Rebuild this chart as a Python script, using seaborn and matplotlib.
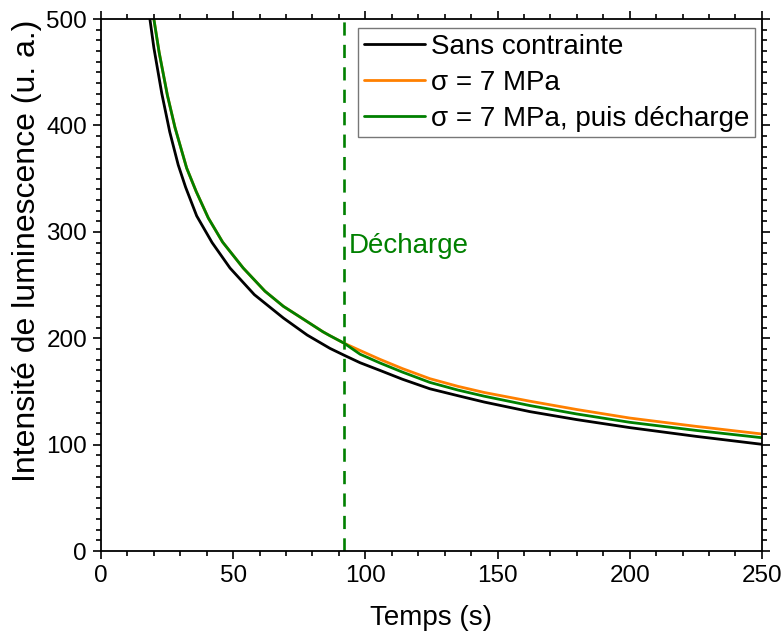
import matplotlib
matplotlib.use("Agg")
import matplotlib.pyplot as plt
import seaborn as sns
import pandas as pd
from matplotlib.ticker import MultipleLocator

# ---- data ----
t_black = [18.5, 20, 23, 26, 29.2, 32, 36.2, 42, 48.8, 58, 69, 78, 86.6, 92,
           98, 105.5, 114, 124.4, 135, 145, 162.3, 180, 200, 225, 250]
y_black = [500, 473, 430, 394, 363, 342, 315, 290, 266, 241, 219, 203, 190.5, 184,
           177, 169.8, 161.5, 152.5, 146, 140, 131, 123.5, 116, 107.8, 100.3]

t_orange = [20, 22, 25.1, 28, 32.4, 36, 40.6, 46, 53.8, 62, 69, 75.9, 84, 86.6, 92,
            98, 105.5, 114, 124.4, 135, 145, 162.3, 180, 200, 225, 250]
y_orange = [500, 468.6, 428.6, 398, 360, 338, 313, 290.4, 266, 244.3, 230, 219, 206,
            202.4, 195.3,
            188.5, 180.2, 171.5, 162, 154.8, 149, 140.8, 133, 125, 117.2, 110]

t_green = [20, 22, 25.1, 28, 32.4, 36, 40.6, 46, 53.8, 62, 69, 75.9, 84, 86.6, 92,
           98, 105.5, 114, 124.4, 135, 145, 162.3, 180, 200, 225, 250]
y_green = [500, 468.6, 428.6, 398, 360, 338, 313, 290.4, 266, 244.3, 230, 219, 206,
           202.4, 195.3,
           185, 176.8, 168.2, 158.5, 151.3, 145.5, 136.7, 128.8, 121, 113.4, 106.5]

labels = ["Sans contrainte", "σ = 7 MPa", "σ = 7 MPa, puis décharge"]
colors = ["#000000", "#FF8000", "#008000"]
t_decharge = 92
decharge_label = "Décharge"

x_ticks = [0, 50, 100, 150, 200, 250]
y_ticks = [0, 100, 200, 300, 400, 500]

df = pd.concat([
    pd.DataFrame({"t": t_black, "I": y_black, "serie": labels[0]}),
    pd.DataFrame({"t": t_orange, "I": y_orange, "serie": labels[1]}),
    pd.DataFrame({"t": t_green, "I": y_green, "serie": labels[2]}),
])

sns.set_style("ticks")
plt.rcParams["font.family"] = ["Liberation Sans", "DejaVu Sans"]
plt.rcParams.update({
    "text.color": "black", "axes.labelcolor": "black",
    "xtick.color": "black", "ytick.color": "black",
    "axes.edgecolor": "black",
})

fig = plt.figure(figsize=(7.83, 6.37), dpi=100)
ax = fig.add_axes([0.129, 0.135, 0.844, 0.835])

sns.lineplot(data=df, x="t", y="I", hue="serie", palette=dict(zip(labels, colors)),
             hue_order=labels, linewidth=2.0, ax=ax, sort=False, estimator=None)

ax.axvline(t_decharge, color="#008000", linestyle=(0, (5, 3.5)), linewidth=1.9, zorder=1)
ax.text(t_decharge + 1.8, 287, decharge_label, color="#008000", fontsize=20,
        va="center", ha="left")

ax.set_xlim(0, 250)
ax.set_ylim(0, 500)
ax.set_xticks(x_ticks)
ax.set_yticks(y_ticks)
ax.xaxis.set_minor_locator(MultipleLocator(10))
ax.yaxis.set_minor_locator(MultipleLocator(10))
ax.tick_params(which="both", direction="out", top=True, right=True,
               labeltop=False, labelright=False, width=1.2, labelsize=17.5)
ax.tick_params(which="major", length=6, pad=4)
ax.tick_params(which="minor", length=3.5)
for s in ax.spines.values():
    s.set_linewidth(1.3)

ax.set_xlabel("Temps (s)", fontsize=20, labelpad=13)
ax.set_ylabel("Intensité de luminescence (u. a.)", fontsize=23, labelpad=3, y=0.564)

leg = ax.legend(loc="upper right", bbox_to_anchor=(0.989, 0.983), fontsize=20,
                frameon=True, fancybox=False, edgecolor="#555555",
                handlelength=2.2, handletextpad=0.2, labelspacing=0.36,
                borderpad=0.2, borderaxespad=0.0)
leg.get_frame().set_linewidth(1.0)
for h in leg.get_lines():
    h.set_linewidth(2.0)

fig.savefig("out.png", dpi=100)
